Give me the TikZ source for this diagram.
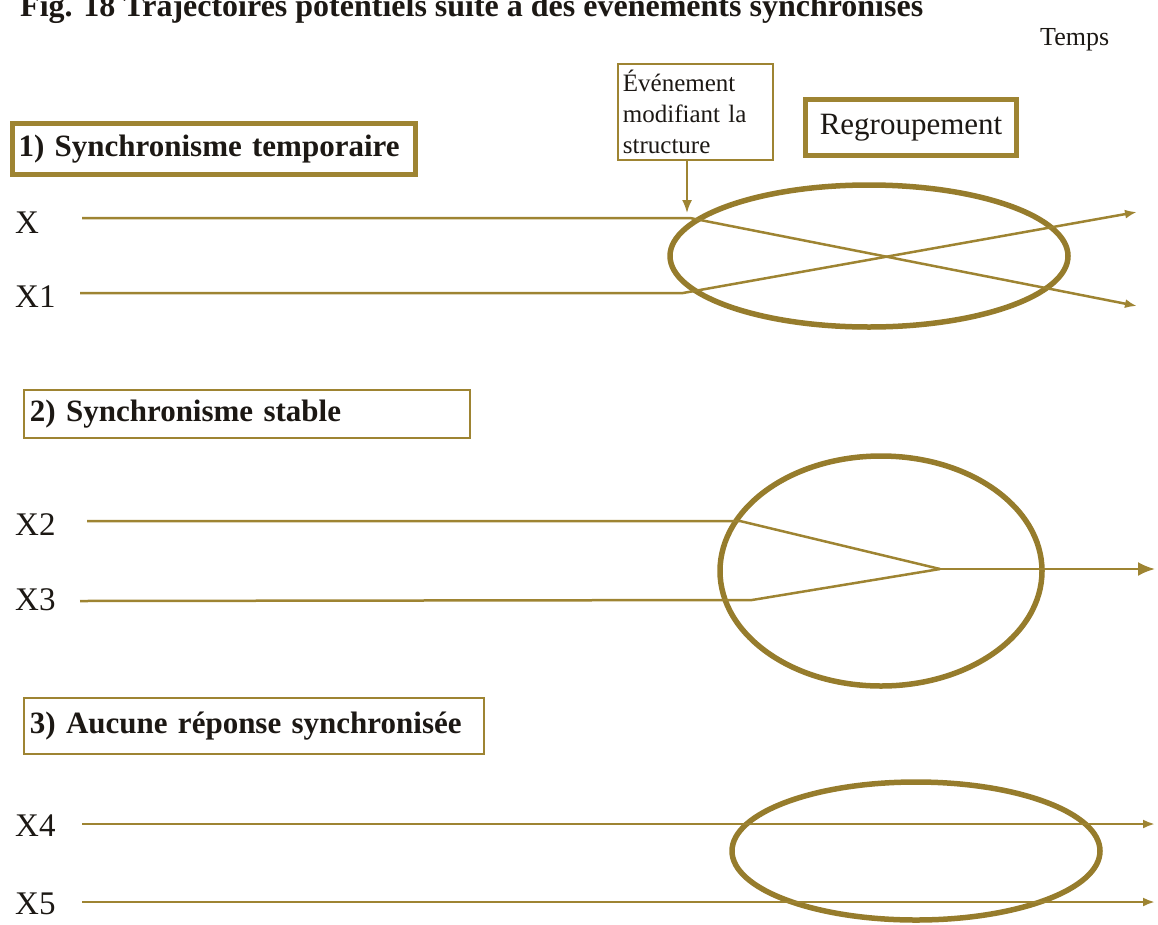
\documentclass[tikz,border=0pt]{standalone}
\usepackage{fontspec}
\setmainfont{Liberation Serif}
\usetikzlibrary{arrows.meta,shapes.geometric}
\definecolor{trackcol}{RGB}{158,132,50}
\definecolor{ringcol}{RGB}{150,124,44}
\definecolor{inkcol}{RGB}{28,24,20}
\begin{document}
\begin{tikzpicture}[x=1pt,y=-1pt,
  every node/.style={text=inkcol},
  track/.style={draw=trackcol, line width=2.5pt},
  tip/.style={-{Latex[length=12pt,width=9pt]}},
  bigtip/.style={-{Latex[length=17pt,width=14pt]}},
  ring/.style={ellipse, draw=ringcol, line width=5.5pt, inner sep=0pt},
  thinbox/.style={draw=trackcol, line width=1.8pt, anchor=north west, inner xsep=6pt, inner ysep=0pt, align=left},
  thickbox/.style={draw=trackcol, line width=5pt, anchor=north west, inner xsep=6pt, inner ysep=0pt, align=left},
  label/.style={anchor=base west, inner sep=0pt, font=\fontsize{33}{39}\selectfont},
  heading/.style={font=\fontsize{31}{37}\selectfont\bfseries}
]
\clip (0,0) rectangle (1158,924);

% title, its upper part running past the top edge, and time axis caption
\node[anchor=base west, inner sep=0pt, font=\fontsize{32}{38}\selectfont\bfseries] (title) at (20,16)
  {Fig. 18 Trajectoires potentiels suite à des événements synchronisés};
\node[anchor=base west, inner sep=0pt, font=\fontsize{26}{31}\selectfont] (temps) at (1040,45) {Temps};

% annotation boxes
\node[thinbox, minimum width=155pt, minimum height=96pt, text width=145pt,
      font=\fontsize{25}{31}\selectfont, inner xsep=4pt] (ev) at (617,63)
  {Événement\\modifiant la\\structure};
\node[thickbox, minimum width=211pt, minimum height=56pt, text width=199pt, align=center,
      font=\fontsize{31}{37}\selectfont] (regr) at (803,97) {Regroupement};

% 1) temporary synchronism
\node[thickbox, heading, minimum width=403pt, minimum height=51pt, text width=391pt] (s1) at (10,121)
  {1) Synchronisme temporaire};
\node[label] (lx) at (15,233) {X};
\node[label] (lx1) at (15,307) {X1};
\node[ring, minimum width=398pt, minimum height=142pt] (r1) at (869,256) {};

\coordinate (x0) at (82,218);  \coordinate (xb) at (690,218);  \coordinate (xe) at (1137,306);
\coordinate (y0) at (80,293);  \coordinate (yb) at (683,293);  \coordinate (ye) at (1137,212);
\draw[track, tip] (x0) -- (xb) -- (xe);
\draw[track, tip] (y0) -- (yb) -- (ye);
\coordinate (evtip) at (687,213);
\draw[track, line width=1.8pt, -{Latex[length=13pt,width=10pt]}] (ev.south -| evtip) -- (evtip);

% 2) stable synchronism
\node[thinbox, heading, minimum width=446pt, minimum height=48pt, text width=434pt] (s2) at (23,389)
  {2) Synchronisme stable};
\node[label] (lx2) at (15,535) {X2};
\node[label] (lx3) at (15,610) {X3};
\node[ring, minimum width=322pt, minimum height=230pt] (r2) at (881,571) {};

\coordinate (a0) at (87,521);  \coordinate (ab) at (740,521);
\coordinate (b0) at (80,601);  \coordinate (bb) at (752,600);
\coordinate (m) at (940,569);  \coordinate (me) at (1155,569);
\draw[track] (a0) -- (ab) -- (m);
\draw[track] (b0) -- (bb) -- (m);
\draw[track, bigtip] (m) -- (me);

% 3) no synchronised response
\node[thinbox, heading, minimum width=460pt, minimum height=56pt, text width=448pt] (s3) at (23,697)
  {3) Aucune réponse synchronisée};
\node[label] (lx4) at (15,836) {X4};
\node[label] (lx5) at (15,914) {X5};
\node[ring, minimum width=368pt, minimum height=138pt] (r3) at (916,851) {};

\coordinate (c0) at (82,824);  \coordinate (ce) at (1155,824);
\coordinate (d0) at (82,902);  \coordinate (de) at (1155,902);
\draw[track, tip] (c0) -- (ce);
\draw[track, tip] (d0) -- (de);
\end{tikzpicture}
\end{document}
